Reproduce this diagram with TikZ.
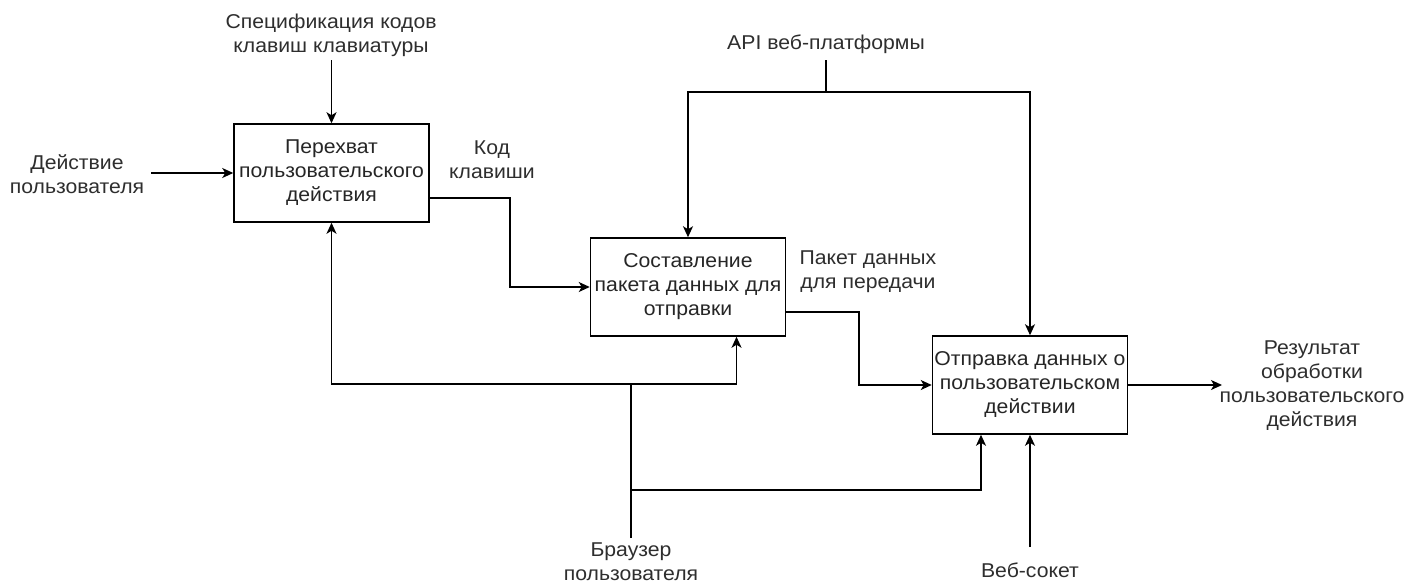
\documentclass[tikz,border=0pt]{standalone}
\usepackage{fontspec}
\setmainfont{Liberation Sans}[FakeStretch=1.06]
\usetikzlibrary{arrows.meta}
\begin{document}
\begin{tikzpicture}[x=1pt,y=-1pt,
  font=\fontsize{20}{24}\selectfont,
  line width=1.5pt,
  box/.style={draw, minimum width=195pt, minimum height=98pt, inner sep=0pt, align=center, text=black!85},
  lbl/.style={inner sep=0pt, align=center, text=black!82},
  arr/.style={-{Stealth[length=11pt,width=10pt,inset=3pt]}}]
\useasboundingbox[fill=white] (0,0) rectangle (1410,584);

% function blocks
\node[box] (b1) at (331.5,173) {Перехват\\пользовательского\\действия};
\node[box] (b2) at (688,287) {Составление\\пакета данных для\\отправки};
\node[box] (b3) at (1030,385) {Отправка данных о\\пользовательском\\действии};

% labels
\node[lbl] (spec) at (331,35) {Спецификация кодов\\клавиш клавиатуры};
\node[lbl] (act) at (77,174) {Действие\\пользователя};
\node[lbl] (key) at (492,160) {Код\\клавиши};
\node[lbl] (api) at (826,44) {API веб-платформы};
\node[lbl] (pkt) at (868,272) {Пакет данных\\для передачи};
\node[lbl] (res) at (1312,386) {Результат\\обработки\\пользовательского\\действия};
\node[lbl] (brw) at (631,562) {Браузер\\пользователя};
\node[lbl] (ws) at (1030,570) {Веб-сокет};

% free ends and branch points
\coordinate (specEnd) at (331.5,60);
\coordinate (actEnd) at (151,173);
\coordinate (apiEnd) at (826,60);
\coordinate (apiSplit) at (826,92);
\coordinate (outEnd) at (1222,385);
\coordinate (brwEnd) at (631,538);
\coordinate (brwA) at (631,384);
\coordinate (brwB) at (631,490);
\coordinate (wsEnd) at (1030,547);

% inputs and controls
\draw[arr] (actEnd) -- (b1.west);
\draw[arr] (specEnd) -- (b1.north);
\draw (apiEnd) -- (apiSplit);
\draw[arr] (apiSplit) -| (b2.north);
\draw[arr] (apiSplit) -| (b3.north);

% flows between blocks
\draw[arr] ([yshift=-25pt]b1.east) -- (510,198) |- (b2.west);
\draw[arr] ([yshift=-25pt]b2.east) -- (859,312) |- (b3.west);
\draw[arr] (b3.east) -- (outEnd);

% mechanisms
\draw (brwEnd) -- (brwA);
\draw[arr] (brwA) -| (b1.south);
\draw[arr] (brwA) -| ([xshift=48.5pt]b2.south);
\draw[arr] (brwB) -| ([xshift=-49pt]b3.south);
\draw[arr] (wsEnd) -- (b3.south);
\end{tikzpicture}
\end{document}
